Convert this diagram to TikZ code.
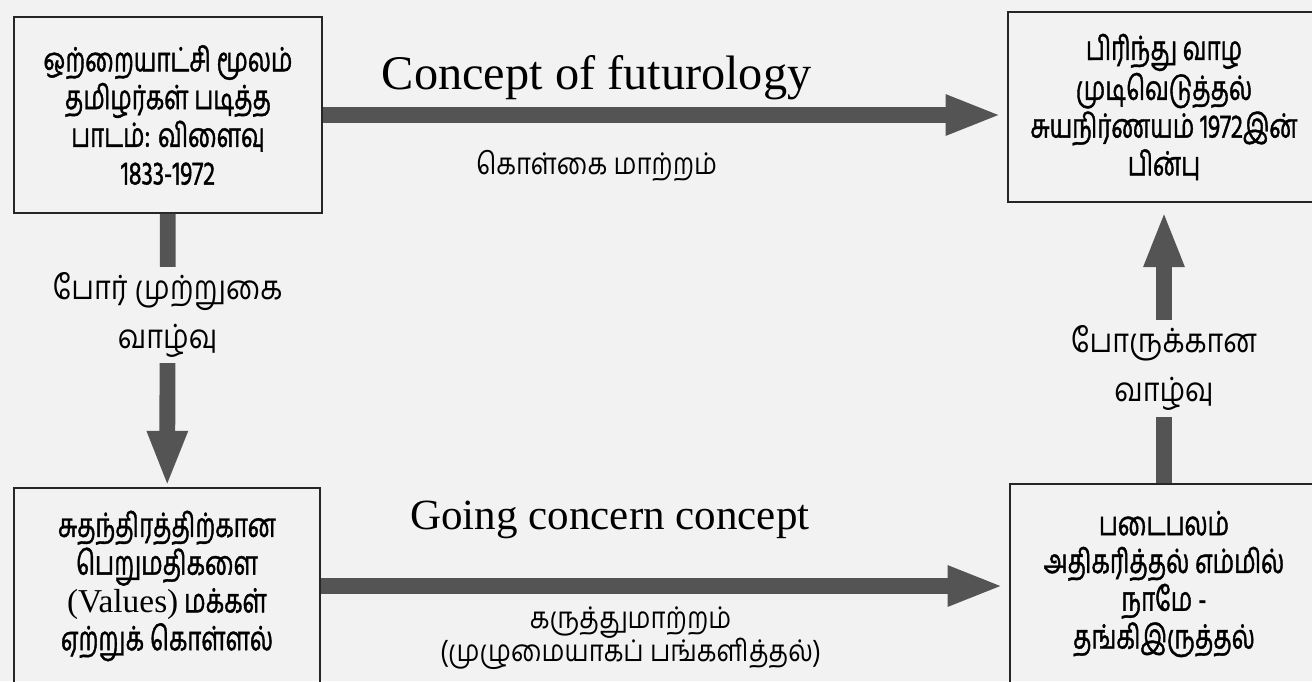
\documentclass[tikz,border=0pt]{standalone}
\usepackage{fontspec}
\setmainfont{Liberation Serif}
\newfontfamily\tamil[Script=Tamil, FakeStretch=0.86]{Hind Madurai}
\newfontfamily\tamilbox[Script=Tamil, FakeStretch=0.72, FakeBold=1.2]{Hind Madurai}
\usetikzlibrary{arrows.meta}

\definecolor{paper}{gray}{0.95}
\definecolor{arrowgray}{gray}{0.33}

\begin{document}
\begin{tikzpicture}[x=0.02cm, y=-0.02cm,
		box/.style={draw=black!85, line width=1.1pt, align=center, inner sep=0pt,
			font=\tamilbox\fontsize{19}{21.5}\selectfont},
		bigarrow/.style={draw=arrowgray, line width=9pt,
			-{Triangle[width=21pt, length=32pt, color=arrowgray]}},
		tlabel/.style={align=center, font=\tamil\fontsize{19}{28}\selectfont},
		elabel/.style={font=\fontsize{26}{30}\selectfont}]

			\useasboundingbox (0,0) rectangle (1312,681);
			\clip (0,0) rectangle (1312,681);
			\fill[paper] (0,0) rectangle (1312,681);

			% the four stages
			\node[box, minimum width=6.16cm, minimum height=3.92cm] (rule) at (168,115)
				{ஒற்றையாட்சி மூலம்\\தமிழர்கள் படித்த\\பாடம்: விளைவு\\1833-1972};
			\node[box, minimum width=6.24cm, minimum height=3.8cm] (self) at (1164,107)
				{பிரிந்து வாழ\\முடிவெடுத்தல்\\சுயநிர்ணயம் 1972இன்\\பின்பு};
			\node[box, minimum width=6.12cm, minimum height=3.92cm] (values) at (167,586)
				{சுதந்திரத்திற்கான\\பெறுமதிகளை\\{\rmfamily(Values)} மக்கள்\\ஏற்றுக் கொள்ளல்};
			\node[box, minimum width=6.16cm, minimum height=4cm] (army) at (1164,584)
				{படைபலம்\\அதிகரித்தல் எம்மில்\\நாமே -\\தங்கிஇருத்தல்};

			% connectors
			\draw[bigarrow, shorten >=3pt] (rule.east) -- (rule.east -| self.west)
				node[elabel, pos=.4, above=1pt, font=\fontsize{27.5}{30}\selectfont] (futurology) {Concept of futurology}
				node[tlabel, pos=.4, below=12pt, font=\tamil\fontsize{17}{28}\selectfont] (policy) {கொள்கை மாற்றம்};
			\draw[bigarrow, shorten >=3pt] (values.east) -- (values.east -| army.west)
				node[elabel, pos=.42, above=19pt, font=\fontsize{24.5}{30}\selectfont] (going) {Going concern concept}
				node[tlabel, pos=.45, below=4pt, font=\tamil\fontsize{17}{19}\selectfont] (opinion)
					{கருத்துமாற்றம்\\(முழுமையாகப் பங்களித்தல்)};
			\draw[bigarrow] (rule) -- (values)
				node[tlabel, pos=.37, fill=paper] (siege) {போர் முற்றுகை\\வாழ்வு};
			\draw[bigarrow, shorten >=4.5pt] (army) -- (self)
				node[tlabel, pos=.41, fill=paper] (war) {போருக்கான\\வாழ்வு};
		\end{tikzpicture}
\end{document}
